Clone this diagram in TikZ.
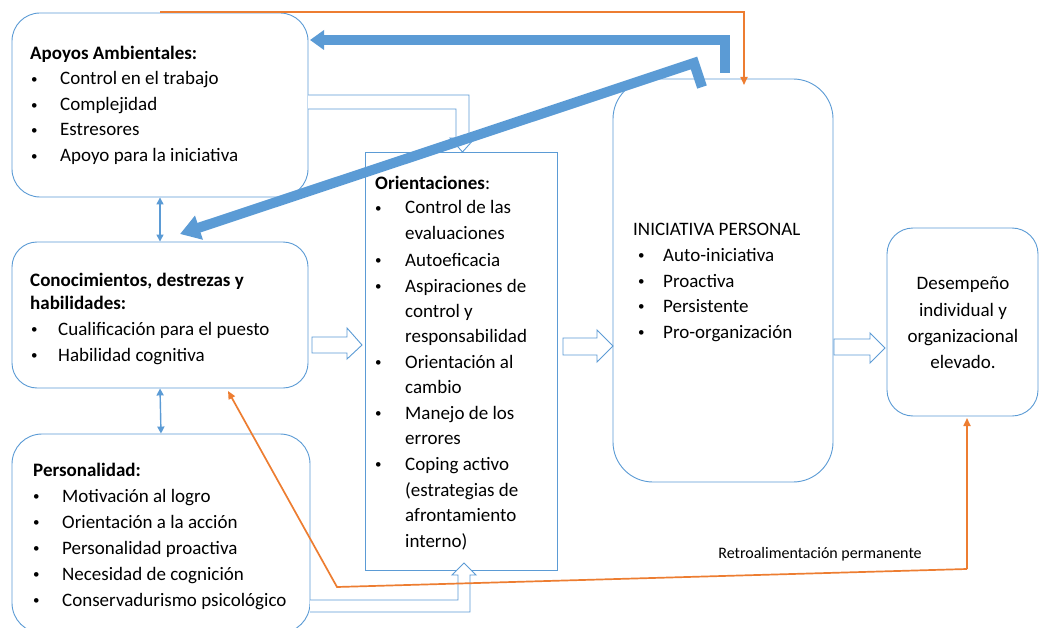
\documentclass[tikz,border=0pt]{standalone}
\usepackage{fontspec}
\setmainfont{Carlito}
\usetikzlibrary{arrows.meta}
\definecolor{bl}{HTML}{5B9BD5}
\definecolor{bld}{HTML}{4A86C0}
\definecolor{org}{HTML}{ED7D31}
\newcommand\bul[1]{\makebox[#1pt][l]{\hspace{0.8pt}\raisebox{1.3pt}{\fontsize{13}{13}\selectfont •}}}
\begin{document}
\begin{tikzpicture}[x=1pt,y=-1pt,
  box/.style={draw=bl, line width=0.9pt, fill=white, inner sep=0pt},
  txt/.style={font=\fontsize{19}{23}\selectfont, inner sep=0pt, anchor=base west, text=black},
  hollow/.style={draw=bl, line width=0.9pt, fill=white, line join=miter},
  dbl/.style={draw=bl, line width=1.4pt, {Triangle[width=7pt,length=7pt]}-{Triangle[width=7pt,length=7pt]}},
  orl/.style={draw=org, line width=1.7pt, line join=miter},
  ortip/.style={-{Triangle[width=7pt,length=8pt]}},
  bigarrow/.style={draw=bl, line width=10pt, line join=miter}]
\useasboundingbox (0,0) rectangle (1040,628);
\fill[white] (0,0) rectangle (1040,628);

% boxes
\node[box, rounded corners=28pt, minimum width=296pt, minimum height=184pt] (apoyos) at (160,105) {};
\node[box, rounded corners=25pt, minimum width=296pt, minimum height=146pt] (conoc) at (160,315) {};
\node[box, rounded corners=30pt, minimum width=298pt, minimum height=199pt] (person) at (161,533.5) {};
\node[box, minimum width=192pt, minimum height=418pt] (orient) at (461,361) {};
\node[box, rounded corners=40pt, minimum width=220pt, minimum height=403pt] (inic) at (723,280.5) {};
\node[box, rounded corners=26pt, minimum width=151pt, minimum height=188pt] (desem) at (962.5,322) {};

% hollow arrows
\draw[hollow] (308,95) -- (469,95) -- (469,138) -- (475,138) -- (462.5,152) -- (450,138) -- (456,138) -- (456,109) -- (308,109);
\draw[hollow] (310,612) -- (470,612) -- (470,575) -- (476,575) -- (464,563) -- (452,575) -- (458,575) -- (458,600) -- (310,600);
\draw[hollow] (312,337) -- (347,337) -- (347,328) -- (362,345) -- (347,359) -- (347,353) -- (312,353) -- cycle;
\draw[hollow] (563,338) -- (597,338) -- (597,330) -- (613,346) -- (597,362) -- (597,355) -- (563,355) -- cycle;
\draw[hollow] (834,339) -- (870,339) -- (870,333) -- (885,348) -- (870,363) -- (870,355) -- (834,355) -- cycle;

% double arrows
\draw[dbl] (apoyos.south) -- (conoc.north);
\draw[dbl] (conoc.south) -- (person.north);

% orange connectors
\coordinate (otop) at (160,12);
\coordinate (ocorner) at (744,12);
\coordinate (fbR) at (967,569);
\coordinate (fbL) at (337,587);
\draw[orl, ortip] (otop) -- (ocorner) -- (744,85);
\draw[orl, ortip] (fbR) -- (967,418);
\draw[orl, ortip] (fbR) -- (fbL) -- (228,391);
\node[inner sep=0pt, anchor=base, font=\fontsize{16}{19}\selectfont] (retro) at (820,558) {Retroalimentación permanente};

% big blue arrows
\draw[bigarrow, -{Triangle[width=19pt,length=14pt]}] (724.5,73) -- (724.5,40) -- (310,40);
\draw[bigarrow, -{Triangle[width=24pt,length=20pt]}] (702,87) -- (694,63) -- (180,234);

% Apoyos text
\node[txt] (a0) at (30,60) {\textbf{Apoyos Ambientales:}};
\node[txt] (a1) at (30,85) {\bul{30}Control en el trabajo};
\node[txt] (a2) at (30,110.5) {\bul{30}Complejidad};
\node[txt] (a3) at (30,136) {\bul{30}Estresores};
\node[txt] (a4) at (30,162) {\bul{30}Apoyo para la iniciativa};

% Conocimientos text
\node[txt] (c0) at (30,286) {\textbf{Conocimientos, destrezas y}};
\node[txt] (c1) at (30,309) {\textbf{habilidades:}};
\node[txt] (c2) at (30,335) {\bul{28}Cualificación para el puesto};
\node[txt] (c3) at (30,361) {\bul{28}Habilidad cognitiva};

% Personalidad text
\node[txt] (p0) at (33,476) {\textbf{Personalidad:}};
\node[txt] (p1) at (32,502) {\bul{30}Motivación al logro};
\node[txt] (p2) at (32,528) {\bul{30}Orientación a la acción};
\node[txt] (p3) at (32,554) {\bul{30}Personalidad proactiva};
\node[txt] (p4) at (32,580) {\bul{30}Necesidad de cognición};
\node[txt] (p5) at (32,606) {\bul{30}Conservadurismo psicológico};

% Orientaciones text
\node[txt] (o0) at (375,190) {\textbf{Orientaciones}:};
\node[txt] (o1) at (374,214) {\bul{31}Control de las};
\node[txt] (o2) at (405,240) {evaluaciones};
\node[txt] (o3) at (374,266) {\bul{31}Autoeficacia};
\node[txt] (o4) at (374,292) {\bul{31}Aspiraciones de};
\node[txt] (o5) at (405,317) {control y};
\node[txt] (o6) at (405,342) {responsabilidad};
\node[txt] (o7) at (374,368) {\bul{31}Orientación al};
\node[txt] (o8) at (405,393) {cambio};
\node[txt] (o9) at (374,419) {\bul{31}Manejo de los};
\node[txt] (o10) at (405,444) {errores};
\node[txt] (o11) at (374,470) {\bul{31}Coping activo};
\node[txt] (o12) at (405,496) {(estrategias de};
\node[txt] (o13) at (405,521) {afrontamiento};
\node[txt] (o14) at (405,547) {interno)};

% Iniciativa text
\node[txt] (i0) at (633,236) {INICIATIVA PERSONAL};
\node[txt] (i1) at (637,261) {\bul{26}Auto-iniciativa};
\node[txt] (i2) at (637,287) {\bul{26}Proactiva};
\node[txt] (i3) at (637,312) {\bul{26}Persistente};
\node[txt] (i4) at (637,338) {\bul{26}Pro-organización};

% Desempeno text
\node[txt, anchor=base] (d1) at (963,289) {Desempeño};
\node[txt, anchor=base] (d2) at (963,316) {individual y};
\node[txt, anchor=base] (d3) at (963,342) {organizacional};
\node[txt, anchor=base] (d4) at (963,368) {elevado.};
\end{tikzpicture}
\end{document}
